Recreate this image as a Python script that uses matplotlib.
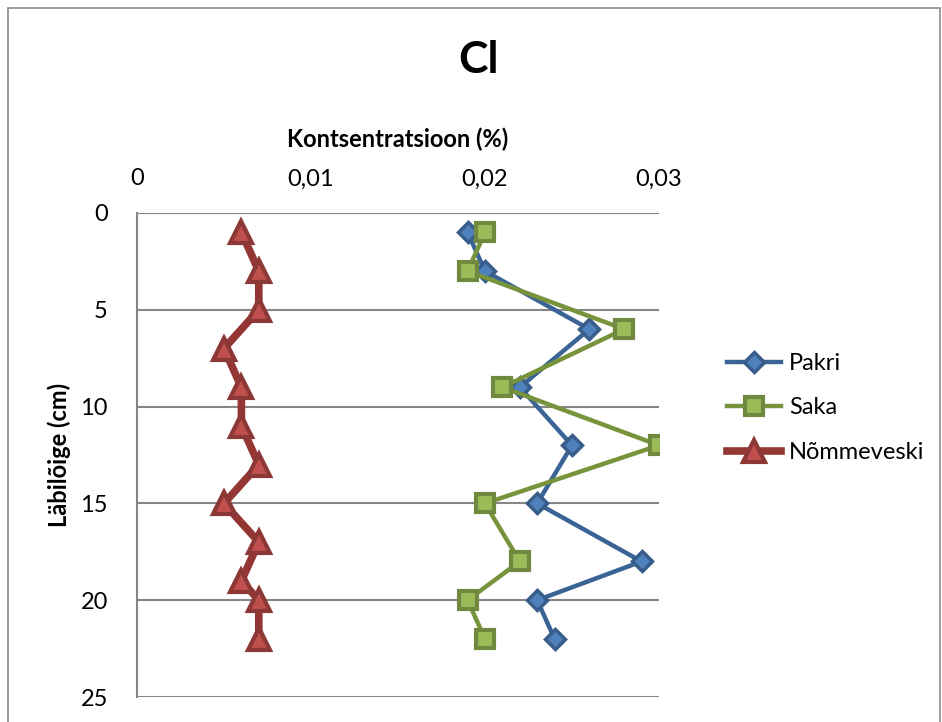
import matplotlib.pyplot as plt
from matplotlib.lines import Line2D
from matplotlib.patches import Rectangle

# sügavus (cm) ja Cl kontsentratsioon (%)
depth_main = [1, 3, 6, 9, 12, 15, 18, 20, 22]
pakri = [0.019, 0.020, 0.026, 0.022, 0.025, 0.023, 0.029, 0.023, 0.024]
saka = [0.020, 0.019, 0.028, 0.021, 0.030, 0.020, 0.022, 0.019, 0.020]

depth_nomme = [1, 3, 5, 7, 9, 11, 13, 15, 17, 19, 20, 22]
nommeveski = [0.006, 0.007, 0.007, 0.005, 0.006, 0.006, 0.007, 0.005, 0.007, 0.006, 0.007, 0.007]

x_ticks = [0, 0.01, 0.02, 0.03]
x_labels = ["0", "0,01", "0,02", "0,03"]
y_ticks = [0, 5, 10, 15, 20, 25]

plt.rcParams['font.family'] = ['Lato', 'DejaVu Sans']

fig = plt.figure(figsize=(9.42, 7.22), dpi=100)
# raam ümber kogu diagrammi
fig.patches.append(Rectangle((8 / 942, -0.05), 932 / 942, 1.05 - 8 / 722, transform=fig.transFigure,
                             fill=False, edgecolor='#8c8c8c', linewidth=1.2))

ax = fig.add_axes([137 / 942, 1 - 697 / 722, (659 - 137) / 942, (697 - 213) / 722])

ax.plot(pakri, depth_main, color='#3a6496', lw=3.2, marker='D', ms=10,
        mfc='#4f81bd', mec='#385d8a', mew=2.5, label='Pakri', zorder=3)
ax.plot(saka, depth_main, color='#77933c', lw=3.2, marker='s', ms=13,
        mfc='#9bbb59', mec='#71893f', mew=3, label='Saka', zorder=4)
ax.plot(nommeveski, depth_nomme, color='#943634', lw=5.5, marker='^', ms=16,
        mfc='#c0504d', mec='#8c3836', mew=3, label='Nõmmeveski', zorder=3)

ax.set_xlim(0, 0.03)
ax.set_ylim(25, 0)
ax.xaxis.tick_top()
ax.xaxis.set_label_position('top')
ax.set_xticks(x_ticks)
ax.set_xticklabels(x_labels)
ax.set_yticks(y_ticks)
ax.tick_params(axis='both', length=0, labelsize=17)
ax.tick_params(axis='x', pad=17)
ax.tick_params(axis='y', pad=21)

ax.grid(axis='y', color='#868686', lw=1.5)
ax.set_axisbelow(True)
for side in ['top', 'right', 'bottom']:
    ax.spines[side].set_visible(False)
ax.spines['left'].set_color('#868686')
ax.spines['left'].set_linewidth(1.5)

ax.set_xlabel('Kontsentratsioon (%)', fontsize=17, fontweight='bold', labelpad=15)
ax.set_ylabel('Läbilõige (cm)', fontsize=17, fontweight='bold', labelpad=7)

fig.text(478 / 942, 1 - 60 / 722, 'Cl', ha='center', va='center', fontsize=32, fontweight='bold')

handles = [
    Line2D([], [], color='#3a6496', lw=3.2, marker='D', ms=10, mfc='#4f81bd', mec='#385d8a', mew=2.5),
    Line2D([], [], color='#77933c', lw=3.2, marker='s', ms=13, mfc='#9bbb59', mec='#71893f', mew=3),
    Line2D([], [], color='#943634', lw=5.5, marker='^', ms=16, mfc='#c0504d', mec='#8c3836', mew=3),
]
fig.legend(handles, ['Pakri', 'Saka', 'Nõmmeveski'], loc='center left',
           bbox_to_anchor=(718 / 942, 1 - 408 / 722), frameon=False, fontsize=17,
           handlelength=2.25, handletextpad=0.35, labelspacing=1.0, borderaxespad=0)

fig.savefig('out.png', dpi=100)
